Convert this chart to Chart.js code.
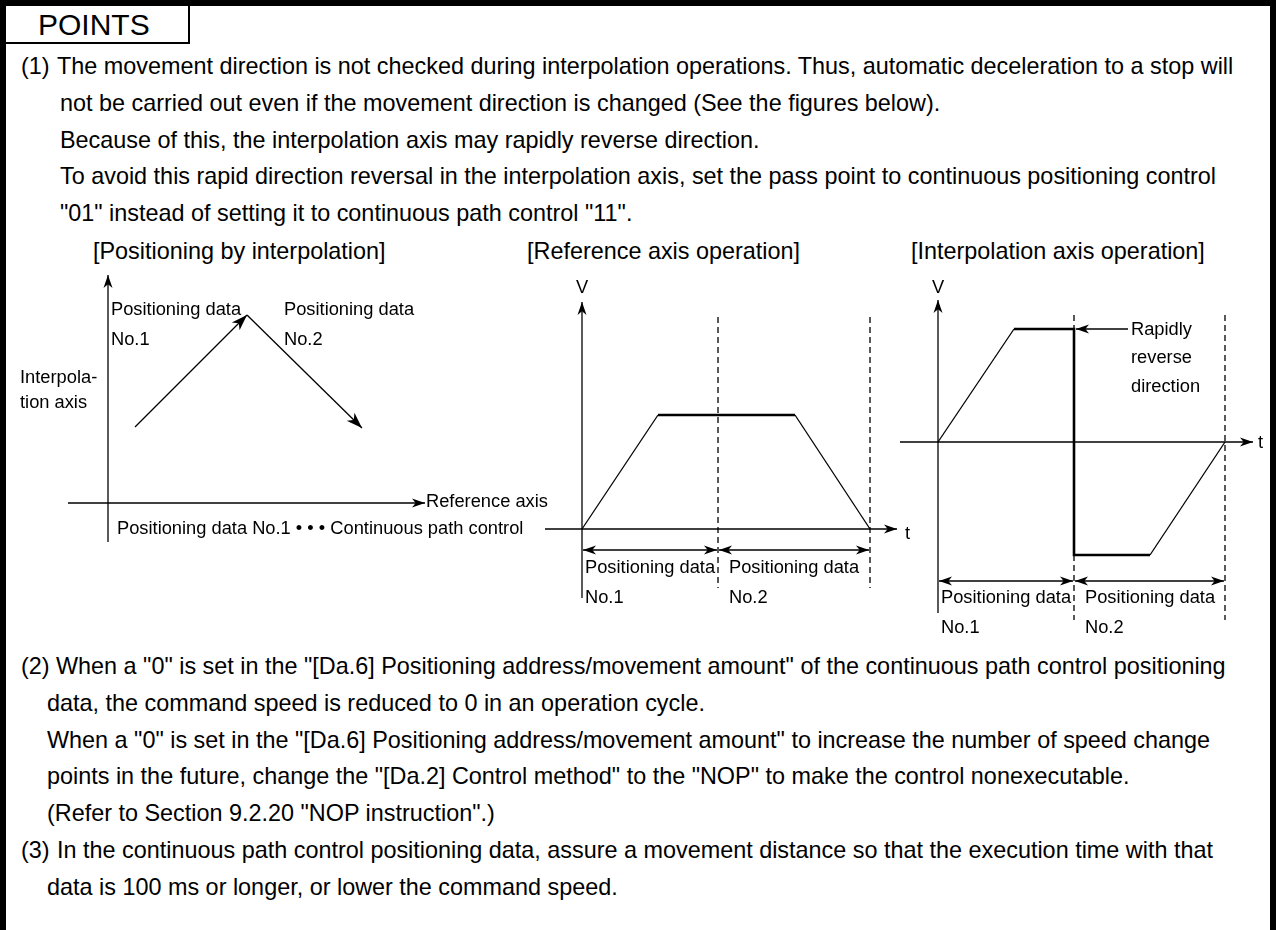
<!DOCTYPE html>
<html>
<head>
<meta charset="utf-8">
<script src="https://cdn.jsdelivr.net/npm/chart.js@4.4.0/dist/chart.umd.min.js"></script>
<style>
  html, body { margin: 0; padding: 0; background: #fff; }
  body { width: 1276px; height: 930px; position: relative; overflow: hidden;
         font-family: 'Liberation Sans', Arial, sans-serif; color: #000; }
  .frame { position: absolute; left: 0; top: 0; width: 1276px; height: 930px; box-sizing: border-box;
           border-top: 6px solid #000; border-left: 6px solid #000; border-right: 6px solid #000; }
  .tab { position: absolute; left: 6px; top: 6px; width: 182px; height: 36px;
         border-right: 2px solid #000; border-bottom: 2px solid #000; }
  .ln { position: absolute; font-size: 23.4px; line-height: 1; white-space: pre; }
  .pts { position: absolute; left: 38px; top: 9.6px; font-size: 30px; line-height: 1; }
  .dg { position: absolute; }
</style>
</head>
<body>
<div class="frame"></div>
<div class="tab"></div>
<div class="pts">POINTS</div>

<script>
/* Diagram data */

// [Positioning by interpolation] : reference axis / interpolation axis positions
const pathRef    = [27, 139, 254];
const pathInterp = [76, 188, 75];

// [Reference axis operation] : time / speed
const refTime  = [0, 76, 213, 288];
const refSpeed = [0, 114, 114, 0];

// [Interpolation axis operation] : time / speed
const intTime  = [0, 76, 136, 136, 212, 287];
const intSpeed = [0, 113, 113, -113, -113, 0];

// end of positioning data No.1 and No.2
const refBounds = [0, 136, 288];
const intBounds = [0, 136, 287];
const dataNames = ['No.1', 'No.2'];

/* Text */
function addLine(x, base, text) {
    const el = document.createElement('div');
    el.className = 'ln';
    el.style.left = x + 'px';
    el.style.top = (base - 19.8) + 'px';
    el.textContent = text;
    document.body.appendChild(el);
}

addLine(21, 75, '(1)');
addLine(57, 75, 'The movement direction is not checked during interpolation operations. Thus, automatic deceleration to a stop will');
addLine(60, 112, 'not be carried out even if the movement direction is changed (See the figures below).');
addLine(60, 149, 'Because of this, the interpolation axis may rapidly reverse direction.');
addLine(60, 185, 'To avoid this rapid direction reversal in the interpolation axis, set the pass point to continuous positioning control');
addLine(60, 222, '"01" instead of setting it to continuous path control "11".');

addLine(93, 260, '[Positioning by interpolation]');
addLine(527, 260, '[Reference axis operation]');
addLine(911, 260, '[Interpolation axis operation]');

addLine(21, 675, '(2)');
addLine(56, 675, 'When a "0" is set in the "[Da.6] Positioning address/movement amount" of the continuous path control positioning');
addLine(47, 712, 'data, the command speed is reduced to 0 in an operation cycle.');
addLine(47, 749, 'When a "0" is set in the "[Da.6] Positioning address/movement amount" to increase the number of speed change');
addLine(47, 785, 'points in the future, change the "[Da.2] Control method" to the "NOP" to make the control nonexecutable.');
addLine(47, 822, '(Refer to Section 9.2.20 "NOP instruction".)');
addLine(21, 859, '(3)');
addLine(57, 859, 'In the continuous path control positioning data, assure a movement distance so that the execution time with that');
addLine(47, 896, 'data is 100 ms or longer, or lower the command speed.');

/* Drawing helpers */
const LABEL_FONT = '18.3px "Liberation Sans", Arial, sans-serif';
const THIN = 1.3;
const BOLD = 2.6;

function seg(ctx, x1, y1, x2, y2) {
    ctx.beginPath();
    ctx.moveTo(x1, y1);
    ctx.lineTo(x2, y2);
    ctx.stroke();
}

function arrowHead(ctx, x1, y1, x2, y2, len, half) {
    const a = Math.atan2(y2 - y1, x2 - x1);
    ctx.save();
    ctx.translate(x2, y2);
    ctx.rotate(a);
    ctx.beginPath();
    ctx.moveTo(0, 0);
    ctx.lineTo(-len, -half);
    ctx.lineTo(-len * 0.72, 0);
    ctx.lineTo(-len, half);
    ctx.closePath();
    ctx.fill();
    ctx.restore();
}

function arrowLine(ctx, x1, y1, x2, y2, both) {
    seg(ctx, x1, y1, x2, y2);
    arrowHead(ctx, x1, y1, x2, y2, 13, 4.5);
    if (both) arrowHead(ctx, x2, y2, x1, y1, 13, 4.5);
}

const diagramPlugin = {
    id: 'diagram',
    beforeDatasetsDraw(chart, args, o) {
        const { ctx } = chart;
        const X = v => chart.scales.x.getPixelForValue(v);
        const Y = v => chart.scales.y.getPixelForValue(v);
        ctx.save();
        ctx.strokeStyle = '#000';
        ctx.fillStyle = '#000';
        ctx.lineWidth = THIN;

        // axes
        const ax = o.axes;
        arrowLine(ctx, X(ax.x0), Y(0), X(ax.x1), Y(0));
        arrowLine(ctx, X(0), Y(ax.y0), X(0), Y(ax.y1));

        // boundaries of the positioning data
        if (o.bounds) {
            ctx.setLineDash([6, 4]);
            o.bounds.slice(1).forEach(t => seg(ctx, X(t), Y(o.dashTop), X(t), Y(o.dashBottom)));
            ctx.setLineDash([]);
            for (let i = 0; i < o.bounds.length - 1; i++) {
                arrowLine(ctx, X(o.bounds[i]) + 1, Y(o.dimY), X(o.bounds[i + 1]) - 1, Y(o.dimY), true);
            }
            ctx.font = LABEL_FONT;
            for (let i = 0; i < o.bounds.length - 1; i++) {
                const lx = X(o.bounds[i]) + (i === 0 ? 3 : 11);
                ctx.fillText('Positioning data', lx, Y(o.labelY));
                ctx.fillText(dataNames[i], lx, Y(o.labelY) + 29.5);
            }
        }

        // callout arrows
        (o.callouts || []).forEach(c => arrowLine(ctx, X(c[0]), Y(c[1]), X(c[2]), Y(c[3])));

        // labels
        ctx.font = LABEL_FONT;
        (o.labels || []).forEach(l => {
            ctx.textAlign = l.align || 'left';
            ctx.fillText(l.text, X(l.x), Y(l.y));
        });
        ctx.restore();
    },
    afterDatasetsDraw(chart, args, o) {
        if (!o.pathArrows) return;
        const { ctx } = chart;
        ctx.save();
        ctx.fillStyle = '#000';
        chart.data.datasets.forEach((ds, i) => {
            const p = chart.getDatasetMeta(i).data;
            const a = p[p.length - 2], b = p[p.length - 1];
            arrowHead(ctx, a.x, a.y, b.x, b.y, 16, 5.5);
        });
        ctx.restore();
    }
};

const pts = (xs, ys) => xs.map((x, i) => ({ x, y: ys[i] }));
const lineSet = (data, width) => ({
    data, showLine: true, borderColor: '#000', borderWidth: width,
    pointRadius: 0, borderJoinStyle: 'miter', fill: false
});

function makeDiagram(box, origin, datasets, deco) {
    const wrap = document.createElement('div');
    wrap.className = 'dg';
    wrap.style.left = box.x + 'px';
    wrap.style.top = box.y + 'px';
    const cv = document.createElement('canvas');
    cv.width = box.w;
    cv.height = box.h;
    wrap.appendChild(cv);
    document.body.appendChild(wrap);

    return new Chart(cv, {
        type: 'scatter',
        data: { datasets },
        options: {
            responsive: false,
            animation: false,
            events: [],
            layout: { padding: 0 },
            plugins: { legend: { display: false }, tooltip: { enabled: false }, diagram: deco },
            scales: {
                x: { type: 'linear', display: false, min: box.x - origin.x, max: box.x + box.w - origin.x },
                y: { type: 'linear', display: false, min: origin.y - (box.y + box.h), max: origin.y - box.y }
            }
        },
        plugins: [diagramPlugin]
    });
}

/* [Positioning by interpolation] */
makeDiagram({ x: 0, y: 265, w: 560, h: 290 }, { x: 108, y: 503 },
    [
        lineSet(pts(pathRef.slice(0, 2), pathInterp.slice(0, 2)), THIN),
        lineSet(pts(pathRef.slice(1, 3), pathInterp.slice(1, 3)), THIN)
    ],
    {
        pathArrows: true,
        axes: { x0: -40, x1: 317, y0: -39, y1: 228 },
        labels: [
            { text: 'Positioning data', x: 3, y: 188 },
            { text: 'No.1', x: 3, y: 158 },
            { text: 'Positioning data', x: 176, y: 188 },
            { text: 'No.2', x: 176, y: 158 },
            { text: 'Interpola-', x: -88, y: 120 },
            { text: 'tion axis', x: -88, y: 95 },
            { text: 'Reference axis', x: 318, y: -4 },
            { text: 'Positioning data No.1 \u2022 \u2022 \u2022 Continuous path control', x: 9, y: -31 }
        ]
    });

/* [Reference axis operation] */
makeDiagram({ x: 530, y: 270, w: 400, h: 345 }, { x: 582, y: 529 },
    [
        lineSet(pts(refTime.slice(0, 2), refSpeed.slice(0, 2)), THIN),
        lineSet(pts(refTime.slice(1, 3), refSpeed.slice(1, 3)), BOLD),
        lineSet(pts(refTime.slice(2, 4), refSpeed.slice(2, 4)), THIN)
    ],
    {
        axes: { x0: -37, x1: 315, y0: -69, y1: 227 },
        bounds: refBounds, dashTop: 212, dashBottom: -59, dimY: -21, labelY: -44,
        labels: [
            { text: 'V', x: 0, y: 236, align: 'center' },
            { text: 't', x: 323, y: -10 }
        ]
    });

/* [Interpolation axis operation] */
makeDiagram({ x: 890, y: 270, w: 380, h: 370 }, { x: 938, y: 442 },
    [
        lineSet(pts(intTime.slice(0, 2), intSpeed.slice(0, 2)), THIN),
        lineSet(pts(intTime.slice(1, 5), intSpeed.slice(1, 5)), BOLD),
        lineSet(pts(intTime.slice(4, 6), intSpeed.slice(4, 6)), THIN)
    ],
    {
        axes: { x0: -38, x1: 315, y0: -171, y1: 142 },
        bounds: intBounds, dashTop: 127, dashBottom: -178, dimY: -139, labelY: -161,
        callouts: [[190, 113, 138, 113]],
        labels: [
            { text: 'V', x: 0, y: 149, align: 'center' },
            { text: 't', x: 320, y: -6 },
            { text: 'Rapidly', x: 193, y: 107 },
            { text: 'reverse', x: 193, y: 79 },
            { text: 'direction', x: 193, y: 50 }
        ]
    });
</script>
</body>
</html>
